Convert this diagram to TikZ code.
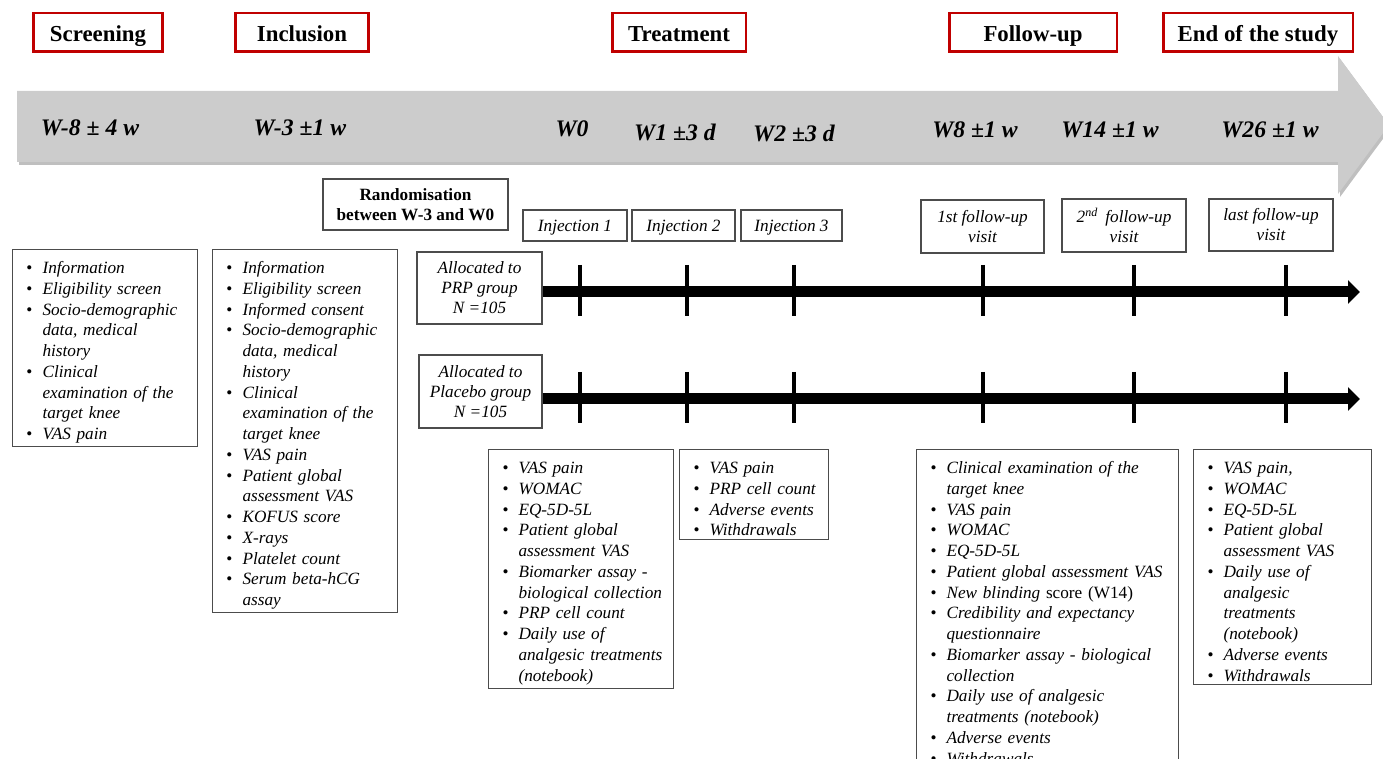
\documentclass[tikz,border=0pt]{standalone}
\usepackage{fontspec}
\setmainfont{Liberation Serif}
\usepackage{enumitem}
\usetikzlibrary{arrows.meta}
\definecolor{phasered}{RGB}{192,0,0}
\definecolor{bargray}{RGB}{204,204,204}
\setlist[itemize]{nosep, leftmargin=0.4cm, labelsep=0.2cm, label={\upshape\textbullet}}
\newcommand{\bodysize}{\fontsize{9.8}{11.8}\selectfont}
\begin{document}
\begin{tikzpicture}[x=0.02cm, y=-0.02cm,
    phase/.style={draw=phasered, line width=1.7pt, inner sep=0pt, minimum height=0.78cm,
        text height=10pt, text depth=0pt, font=\fontsize{13}{15}\selectfont\bfseries},
    week/.style={font=\fontsize{13.5}{16}\selectfont\bfseries\itshape},
    smallbox/.style={draw=black!70, line width=0.6pt, inner sep=0pt, align=center,
        font=\fontsize{9.8}{11.4}\selectfont\itshape},
    injbox/.style={smallbox, minimum height=0.62cm, text height=7pt, text depth=0pt},
    listbox/.style={draw=black!70, line width=0.6pt, anchor=north west, align=left,
        inner xsep=0.2cm, inner ysep=0.07cm, font=\bodysize\itshape},
    timeline/.style={line width=0.22cm, -{Triangle[length=0.24cm, width=0.46cm]}},
    tickmark/.style={line width=0.08cm}]
    \clip (0,0) rectangle (1383,759);
    % grey time arrow
    \fill[black!25] (19,94) -- (1340,94) -- (1340,59) -- (1391,128) -- (1340,197)
        -- (1340,165) -- (19,165) -- cycle;
    \fill[bargray] (17,91) -- (1338,91) -- (1338,56) -- (1389,125) -- (1338,194)
        -- (1338,162) -- (17,162) -- cycle;
    % phases
    \node[phase, minimum width=2.6cm] (screening) at (98,32.5) {Screening};
    \node[phase, minimum width=2.68cm] (inclusion) at (302,32.5) {Inclusion};
    \node[phase, minimum width=2.68cm] (treatment) at (679,32.5) {Treatment};
    \node[phase, minimum width=3.36cm] (followup) at (1033,32.5) {Follow-up};
    \node[phase, minimum width=3.8cm] (endstudy) at (1258,32.5) {End of the study};
    % weeks
    \node[week] (wm8) at (90,128) {W-8 ± 4 w};
    \node[week] (wm3) at (300,128) {W-3 ±1 w};
    \node[week] (w0) at (572,129) {W0};
    \node[week] (w1) at (675,132) {W1 ±3 d};
    \node[week] (w2) at (794,133) {W2 ±3 d};
    \node[week] (w8) at (975,130) {W8 ±1 w};
    \node[week] (w14) at (1110,130) {W14 ±1 w};
    \node[week] (w26) at (1270,130) {W26 ±1 w};
    % visits
    \node[smallbox, font=\fontsize{9.8}{11.4}\selectfont\bfseries, minimum width=3.7cm,
        minimum height=1.02cm] (random) at (415.5,204.5) {Randomisation\\between W-3 and W0};
    \node[injbox, minimum width=2.08cm] (inj1) at (575,225.5) {Injection 1};
    \node[injbox, minimum width=2.06cm] (inj2) at (683.5,225.5) {Injection 2};
    \node[injbox, minimum width=2.02cm] (inj3) at (791.5,225.5) {Injection 3};
    \node[smallbox, minimum width=2.46cm, minimum height=1.06cm] (visit1) at (982.5,226.5) {1st follow-up\\visit};
    \node[smallbox, minimum width=2.48cm, minimum height=1.06cm] (visit2) at (1124,225.5)
        {2\textsuperscript{nd}\, follow-up\\visit};
    \node[smallbox, minimum width=2.48cm, minimum height=1.04cm] (visit3) at (1271,225) {last follow-up\\visit};
    % groups
    \node[smallbox, minimum width=2.5cm, minimum height=1.44cm] (prp) at (479.5,288)
        {Allocated to\\PRP group\\N =105};
    \node[smallbox, minimum width=2.46cm, minimum height=1.46cm] (placebo) at (480.5,391.5)
        {Allocated to\\Placebo group\\N =105};
    \coordinate (prpend) at (1360,292);
    \coordinate (placeboend) at (1360,399);
    \draw[timeline] (prp.east |- prpend) -- (prpend);
    \draw[timeline] (placebo.east |- placeboend) -- (placeboend);
    \foreach \tx in {580,687,794,983,1134,1286} {
        \draw[tickmark] (\tx,265) -- (\tx,316);
        \draw[tickmark] (\tx,372) -- (\tx,423);
    }
    % assessments
    \node[listbox, text width=3.3cm] (screenlist) at (12,249) {\begin{itemize}
        \item Information
        \item Eligibility screen
        \item Socio-demographic\\data, medical\\history
        \item Clinical\\examination of the\\target knee
        \item VAS pain
    \end{itemize}};
    \node[listbox, text width=3.3cm] (inclist) at (212,249) {\begin{itemize}
        \item Information
        \item Eligibility screen
        \item Informed consent
        \item Socio-demographic\\data, medical\\history
        \item Clinical\\examination of the\\target knee
        \item VAS pain
        \item Patient global\\assessment VAS
        \item KOFUS score
        \item X-rays
        \item Platelet count
        \item Serum beta-hCG\\assay
    \end{itemize}};
    \node[listbox, text width=3.3cm] (w0list) at (488,449) {\begin{itemize}
        \item VAS pain
        \item WOMAC
        \item EQ-5D-5L
        \item Patient global\\assessment VAS
        \item Biomarker assay -\\biological collection
        \item PRP cell count
        \item Daily use of\\analgesic treatments\\(notebook)
    \end{itemize}};
    \node[listbox, text width=2.58cm] (injlist) at (679,449) {\begin{itemize}
        \item VAS pain
        \item PRP cell count
        \item Adverse events
        \item Withdrawals
    \end{itemize}};
    \node[listbox, text width=4.84cm] (fulist) at (916,449) {\begin{itemize}
        \item Clinical examination of the\\target knee
        \item VAS pain
        \item WOMAC
        \item EQ-5D-5L
        \item Patient global assessment VAS
        \item New blinding \textup{score (W14)}
        \item Credibility and expectancy\\questionnaire
        \item Biomarker assay - biological\\collection
        \item Daily use of analgesic\\treatments (notebook)
        \item Adverse events
        \item Withdrawals
    \end{itemize}};
    \node[listbox, text width=3.16cm] (endlist) at (1193,449) {\begin{itemize}
        \item VAS pain,
        \item WOMAC
        \item EQ-5D-5L
        \item Patient global\\assessment VAS
        \item Daily use of\\analgesic\\treatments\\(notebook)
        \item Adverse events
        \item Withdrawals
    \end{itemize}};
\end{tikzpicture}
\end{document}
